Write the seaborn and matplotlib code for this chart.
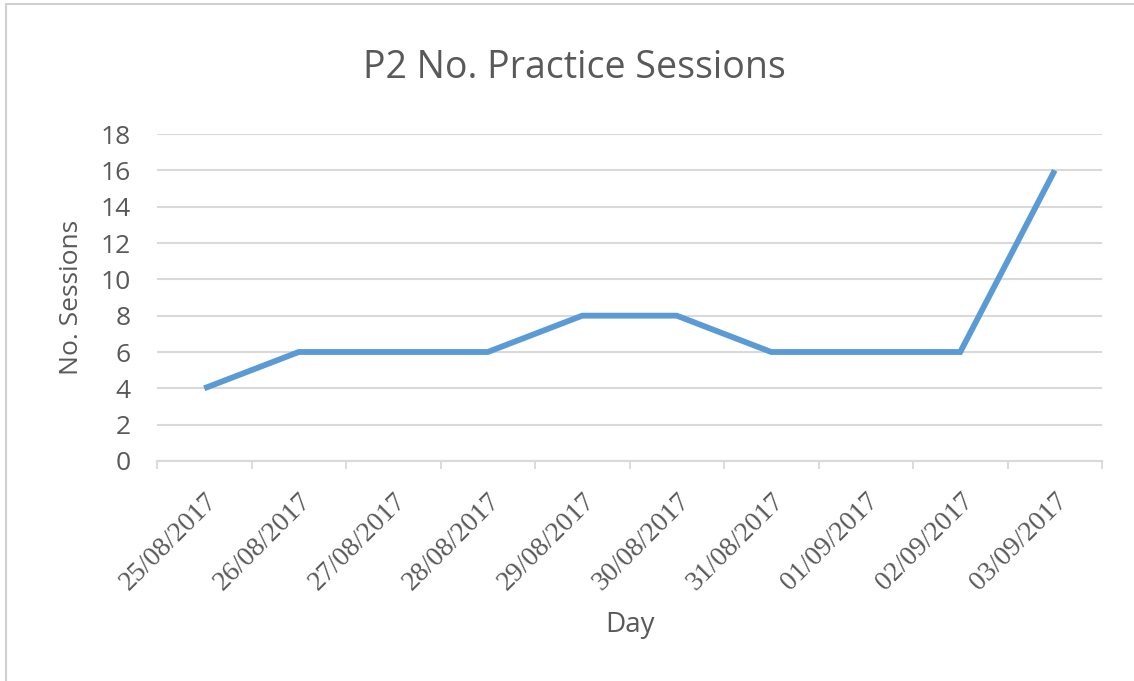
import matplotlib
matplotlib.use("Agg")
import matplotlib.pyplot as plt
import seaborn as sns
import pandas as pd
from matplotlib.lines import Line2D

days = ["25/08/2017", "26/08/2017", "27/08/2017", "28/08/2017", "29/08/2017",
        "30/08/2017", "31/08/2017", "01/09/2017", "02/09/2017", "03/09/2017"]
sessions = [4, 6, 6, 6, 8, 8, 6, 6, 6, 16]
y_ticks = [0, 2, 4, 6, 8, 10, 12, 14, 16, 18]

title = "P2 No. Practice Sessions"
x_title = "Day"
y_title = "No. Sessions"

sns.set_theme(style="white")
plt.rcParams["font.family"] = ["Open Sans", "DejaVu Sans"]

text_color = "#595959"
grid_color = "#d9d9d9"
line_color = "#5b9bd5"

df = pd.DataFrame({"day": days, "sessions": sessions, "pos": range(len(days))})

W, H = 1134, 681
fig = plt.figure(figsize=(W / 100, H / 100), dpi=100)
ax = fig.add_axes([157 / W, 1 - 461 / H, (1102 - 157) / W, (461 - 134) / H])

sns.lineplot(data=df, x="pos", y="sessions", ax=ax, color=line_color,
             linewidth=4.2, solid_capstyle="butt", solid_joinstyle="miter", zorder=3)

ax.set_xlim(-0.5, len(days) - 0.5)
ax.set_ylim(0, 18)
ax.set_yticks(y_ticks)
ax.set_yticklabels([str(v) for v in y_ticks], fontsize=19, color=text_color)
ax.yaxis.grid(True, color=grid_color, linewidth=1.5)
ax.set_axisbelow(True)
ax.tick_params(axis="y", left=False, length=0, pad=19)

# category labels at centres, tick marks at category boundaries
ax.set_xticks(range(len(days)))
ax.set_xticklabels(days, rotation=45, ha="right", rotation_mode="anchor",
                   fontsize=20, color=text_color, family=["Liberation Serif"])
ax.tick_params(axis="x", which="major", bottom=False, length=0, pad=20)
ax.set_xticks([i - 0.5 for i in range(len(days) + 1)], minor=True)
ax.tick_params(axis="x", which="minor", bottom=True, length=6, width=1.3,
               color=grid_color, direction="out")

for side in ["top", "right", "left"]:
    ax.spines[side].set_visible(False)
ax.spines["bottom"].set_color(grid_color)
ax.spines["bottom"].set_linewidth(1.5)

ax.set_xlabel(x_title, fontsize=20, color=text_color)
ax.xaxis.set_label_coords(0.5, (461 - 625) / (461 - 134))
ax.xaxis.label.set_va("center")
ax.set_ylabel(y_title, fontsize=19, color=text_color)
ax.yaxis.set_label_coords((72 - 157) / (1102 - 157), 0.5)
ax.yaxis.label.set_va("center")

fig.text(574 / W, 1 - 68 / H, title, ha="center", va="center", fontsize=27, color=text_color)

# chart frame along the top and left edges
fig.add_artist(Line2D([6 / W, 6 / W], [0, 1 - 4 / H], transform=fig.transFigure,
                      color="#d0d0d0", linewidth=1.5))
fig.add_artist(Line2D([6 / W, 1], [1 - 4 / H, 1 - 4 / H], transform=fig.transFigure,
                      color="#d0d0d0", linewidth=1.5))

fig.savefig("out.png", dpi=100, facecolor="white")
